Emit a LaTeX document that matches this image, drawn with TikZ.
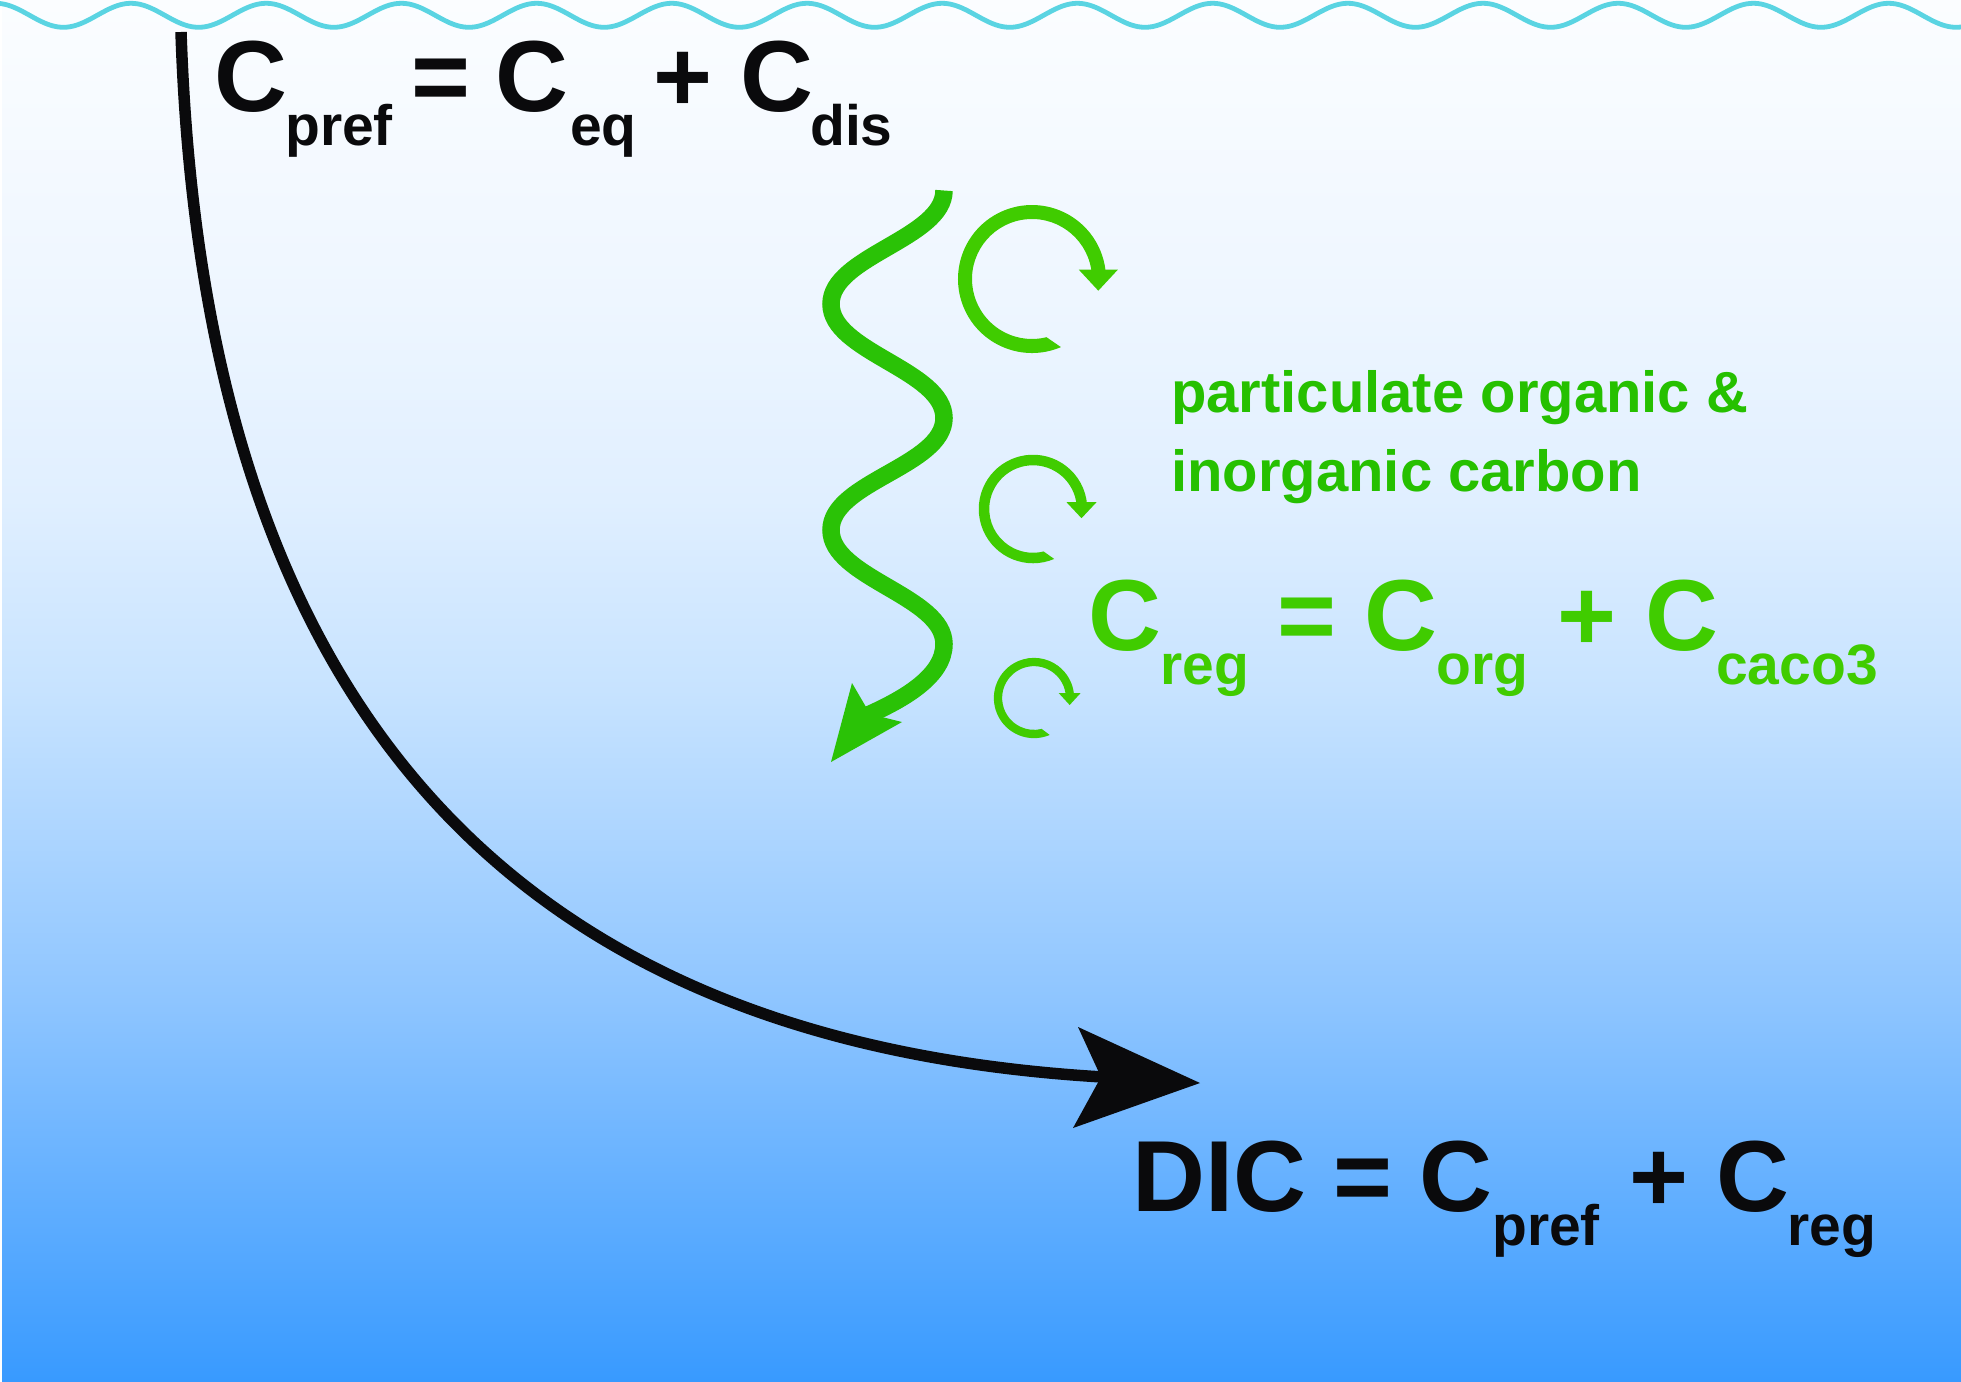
\documentclass[tikz,border=0pt]{standalone}
\usepackage{fontspec}
\setmainfont{Liberation Sans}
\usetikzlibrary{calc}
\definecolor{inkblack}{RGB}{10,10,12}
\definecolor{wavecyan}{RGB}{90,212,226}
\definecolor{textgreen}{RGB}{38,192,0}
\definecolor{wavegreen}{RGB}{42,194,6}
\definecolor{loopgreen}{RGB}{64,204,0}
\definecolor{bgA}{RGB}{251,253,255}
\definecolor{bgB}{RGB}{238,246,255}
\definecolor{bgC}{RGB}{224,239,255}
\definecolor{bgD}{RGB}{199,227,255}
\definecolor{bgE}{RGB}{142,197,255}
\definecolor{bgF}{RGB}{56,154,255}
\pgfdeclareverticalshading{oceanbg}{100bp}{color(0bp)=(bgF); color(25bp)=(bgF); color(38.79bp)=(bgE); color(50.02bp)=(bgD); color(56.9bp)=(bgC); color(64.14bp)=(bgB); color(75bp)=(bgA); color(100bp)=(bgA)}
\tikzset{
  bigtxt/.style={inner sep=0pt, anchor=base west, font=\fontsize{101pt}{101pt}\selectfont\bfseries},
  subtxt/.style={inner sep=0pt, anchor=base west, font=\fontsize{57pt}{57pt}\selectfont\bfseries},
  labtxt/.style={inner sep=0pt, anchor=base west, text=textgreen, font=\fontsize{58pt}{58pt}\selectfont\bfseries},
  blackeq/.style={text=inkblack},
  greeneq/.style={text=loopgreen},
}
\begin{document}
\begin{tikzpicture}[x=1pt,y=-1pt]
\useasboundingbox (0,0) rectangle (1961,1381);
\fill[white] (0,0) rectangle (1961,1381);
\shade[shading=oceanbg] (2,0) rectangle (1961,1381);

% sea surface
\draw[wavecyan, line width=4.8pt] plot[domain=-10:1971, samples=700] (\x, {15.3 - 12*cos(2.66272*(\x-131))});

% top formula
\node[bigtxt, blackeq] (p1) at (214.5,111) {C};
\node[subtxt, blackeq] (p2) at (285,145) {pref};
\node[bigtxt, blackeq] (p3) at (411.5,111) {=};
\node[bigtxt, blackeq] (p4) at (495.5,111) {C};
\node[subtxt, blackeq] (p5) at (570,145) {eq};
\node[bigtxt, blackeq] (p6) at (653,111) {+};
\node[bigtxt, blackeq] (p7) at (740.5,111) {C};
\node[subtxt, blackeq] (p8) at (810,145) {dis};

% black transport curve
\coordinate (bstart) at (181,32);
\coordinate (bend) at (1103,1077);
\draw[inkblack, line width=11.5pt] (bstart) .. controls (205,760) and (560,1045) .. (bend);
\coordinate (btip) at (1200,1083);
\fill[inkblack] (btip) -- (1078,1027) -- (1101,1077) -- (1073,1128) -- cycle;

% green sinking particles
\coordinate (gstart) at (944,190.5);
\coordinate (gend) at (868,715);
\draw[wavegreen, line width=17.5pt] (gstart)
  .. controls (944,238.5) and (831,256) .. (831,304)
  .. controls (831,352) and (944,370) .. (944,418)
  .. controls (944,466) and (831,482) .. (831,530)
  .. controls (831,578) and (944,596) .. (944,644)
  .. controls (944,676) and (904,699) .. (gend);
\coordinate (gtip) at (831,762);
\fill[wavegreen] (gtip) -- (852,683) -- (866,707) -- (882,717) -- (902,722) -- cycle;

% remineralisation loops
\coordinate (c1) at (1032,279);
\coordinate (c2) at (1033,509);
\coordinate (c3) at (1034,698);
\fill[loopgreen] ($(c1)+(67:74)$) arc[start angle=67, end angle=356, radius=74]
  -- ($(c1)+(356:60)$) arc[start angle=356, end angle=76, radius=60] -- cycle;
\fill[loopgreen] (1078.8,269.7) -- (1117.8,269.7) -- (1098.3,290.7) -- cycle;
\fill[loopgreen] ($(c2)+(67:54.25)$) arc[start angle=67, end angle=356, radius=54.25]
  -- ($(c2)+(356:43.75)$) arc[start angle=356, end angle=76, radius=43.75] -- cycle;
\fill[loopgreen] (1066.5,502.2) -- (1096.5,502.2) -- (1081.5,518.2) -- cycle;
\fill[loopgreen] ($(c3)+(67:40.15)$) arc[start angle=67, end angle=356, radius=40.15]
  -- ($(c3)+(356:31.85)$) arc[start angle=356, end angle=76, radius=31.85] -- cycle;
\fill[loopgreen] (1058.65,693) -- (1080.65,693) -- (1069.65,705) -- cycle;

% label
\node[labtxt] (l1) at (1171,412) {particulate organic \&};
\node[labtxt] (l2) at (1171,491) {inorganic carbon};

% regenerated formula
\node[bigtxt, greeneq] (r1) at (1088.5,650) {C};
\node[subtxt, greeneq] (r2) at (1160,684) {reg};
\node[bigtxt, greeneq] (r3) at (1277.5,650) {=};
\node[bigtxt, greeneq] (r4) at (1364,650) {C};
\node[subtxt, greeneq] (r5) at (1436,684) {org};
\node[bigtxt, greeneq] (r6) at (1557.5,650) {+};
\node[bigtxt, greeneq] (r7) at (1645.5,650) {C};
\node[subtxt, greeneq] (r8) at (1716,684) {caco3};

% DIC formula
\node[bigtxt, blackeq] (d1) at (1132.5,1211) {DIC};
\node[bigtxt, blackeq] (d2) at (1333,1211) {=};
\node[bigtxt, blackeq] (d3) at (1419,1211) {C};
\node[subtxt, blackeq] (d4) at (1492,1245) {pref};
\node[bigtxt, blackeq] (d5) at (1629.5,1211) {+};
\node[bigtxt, blackeq] (d6) at (1716.5,1211) {C};
\node[subtxt, blackeq] (d7) at (1787,1245) {reg};
\end{tikzpicture}
\end{document}
